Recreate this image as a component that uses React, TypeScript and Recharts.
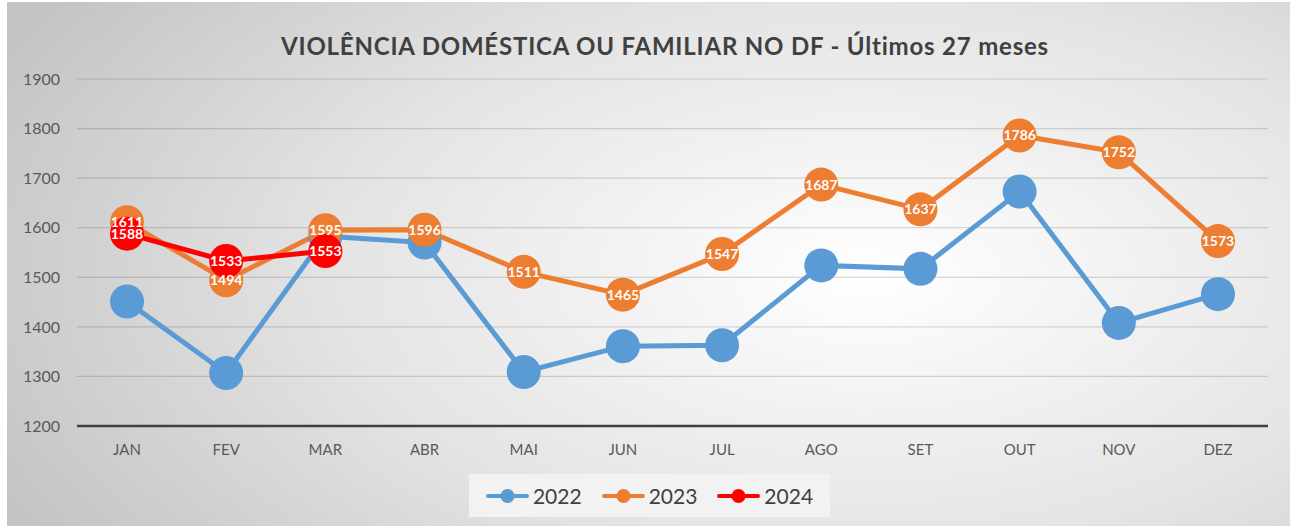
import React from 'react';
import { LineChart, Line, XAxis, YAxis, CartesianGrid, LabelList, Legend } from 'recharts';

const months = ['JAN', 'FEV', 'MAR', 'ABR', 'MAI', 'JUN', 'JUL', 'AGO', 'SET', 'OUT', 'NOV', 'DEZ'];
const values2022 = [1451, 1307, 1583, 1570, 1309, 1361, 1363, 1524, 1517, 1673, 1408, 1466];
const values2023 = [1611, 1494, 1595, 1596, 1511, 1465, 1547, 1687, 1637, 1786, 1752, 1573];
const values2024 = [1588, 1533, 1553];
const yTicks = [1200, 1300, 1400, 1500, 1600, 1700, 1800, 1900];

const series = [
  { key: '2022', color: '#5B9BD5', values: values2022 },
  { key: '2023', color: '#ED7D31', values: values2023 },
  { key: '2024', color: '#FF0000', values: values2024 },
];

const data = months.map((m, i) => {
  const row: Record<string, string | number | undefined> = { month: m };
  series.forEach((s) => {
    row[s.key] = s.values[i];
  });
  return row;
});

const FONT = 'Lato, "Open Sans", sans-serif';

const LegendBox = (props: any) => {
  const items = (props.payload || []).filter((p: any) => p.type !== 'none');
  return (
    <div
      style={{
        width: 361,
        height: 43,
        background: '#f2f2f2',
        display: 'flex',
        alignItems: 'center',
        justifyContent: 'center',
        gap: 20,
        fontFamily: FONT,
      }}
    >
      {items.map((p: any) => (
        <div key={p.value} style={{ display: 'flex', alignItems: 'center', gap: 4 }}>
          <svg width={43} height={16}>
            <line x1={2} y1={8} x2={41} y2={8} stroke={p.color} strokeWidth={4} strokeLinecap="round" />
            <circle cx={21.5} cy={8} r={7} fill={p.color} />
          </svg>
          <span style={{ fontSize: 21, color: '#404040' }}>{p.value}</span>
        </div>
      ))}
    </div>
  );
};

const App: React.FC = () => {
  return (
    <div style={{ position: 'absolute', left: 0, top: 0, width: 1295, height: 526, background: '#fff' }}>
      <div
        style={{
          position: 'absolute',
          left: 7,
          top: 2,
          width: 1283,
          height: 524,
          background: 'radial-gradient(ellipse 75% 95% at 67% 52%, #ffffff 0%, #e4e4e4 55%, #c4c4c4 100%)',
          fontFamily: FONT,
        }}
      >
        <div
          style={{
            position: 'absolute',
            left: 0,
            top: 29,
            width: 1316,
            textAlign: 'center',
            fontSize: 24,
            letterSpacing: 0.8,
            fontWeight: 'bold',
            color: '#404040',
          }}
        >
          VIOLÊNCIA DOMÉSTICA OU FAMILIAR NO DF - Últimos 27 meses
        </div>
        <LineChart width={1283} height={524} data={data} margin={{ top: 77, right: 22, left: 20, bottom: 70 }}>
          <CartesianGrid vertical={false} stroke="#000" strokeOpacity={0.14} strokeWidth={1.2} />
          <XAxis
            dataKey="month"
            height={30}
            padding={{ left: 50, right: 50 }}
            axisLine={{ stroke: '#404040', strokeWidth: 2.5 }}
            tickLine={false}
            tickSize={0}
            tickMargin={18}
            tick={{ fontSize: 15, fill: '#595959', fontFamily: FONT }}
          />
          <YAxis
            width={50}
            domain={[1200, 1900]}
            ticks={yTicks}
            axisLine={false}
            tickLine={false}
            tickSize={0}
            tickMargin={17}
            tick={{ fontSize: 16, fill: '#595959', fontFamily: FONT }}
          />
          <Legend
            layout="horizontal"
            verticalAlign="middle"
            align="center"
            content={<LegendBox />}
            wrapperStyle={{ position: 'absolute', left: 462, top: 472, width: 361, height: 43 }}
          />
          {series.map((s) => (
            <Line
              key={s.key}
              dataKey={s.key}
              name={s.key}
              stroke={s.color}
              strokeWidth={5}
              dot={{ r: 17, fill: s.color, stroke: s.color, strokeWidth: 0 }}
              activeDot={false}
              isAnimationActive={false}
            >
              {s.key === '2024' && (
                <LabelList dataKey={s.key} position="center" fill="#fff" fontSize={14} fontWeight="bold" fontFamily={FONT} />
              )}
            </Line>
          ))}
          <Line
            dataKey="2023"
            name="2023 labels"
            legendType="none"
            stroke="none"
            dot={false}
            activeDot={false}
            isAnimationActive={false}
          >
            <LabelList dataKey="2023" position="center" fill="#fff" fontSize={14} fontWeight="bold" fontFamily={FONT} />
          </Line>
        </LineChart>
      </div>
    </div>
  );
};

export default App;
